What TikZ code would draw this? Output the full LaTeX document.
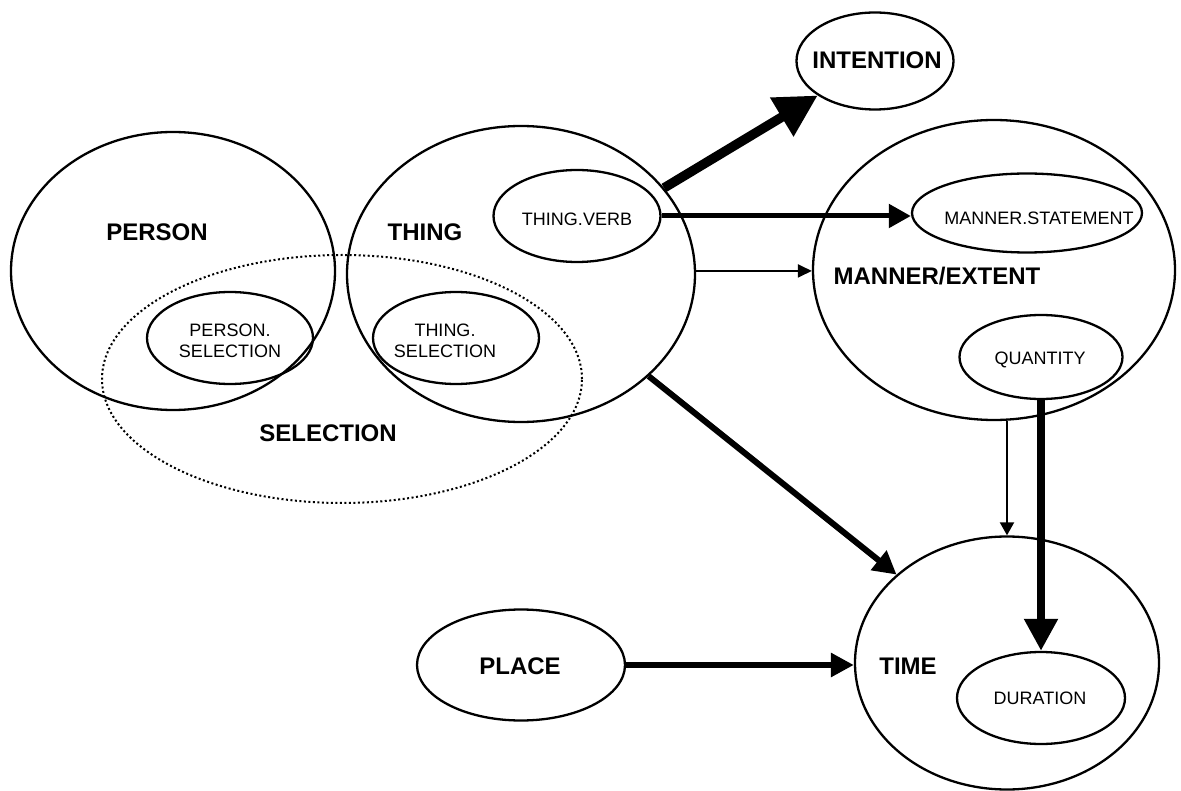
\documentclass[tikz,border=0pt]{standalone}
\usepackage{fontspec}
\setmainfont{Liberation Sans}
\usetikzlibrary{shapes.geometric,arrows.meta}
\begin{document}
\begin{tikzpicture}[x=1pt,y=-1pt,
  oval/.style={draw, ellipse, line width=2.3pt, inner sep=0pt, outer sep=1.15pt},
  dotoval/.style={draw, ellipse, line width=2pt, dash pattern=on 2pt off 2.5pt, inner sep=0pt},
  big/.style={font=\fontsize{24}{28}\selectfont\bfseries, inner sep=0pt, text depth=0pt},
  small/.style={font=\fontsize{18}{21}\selectfont, inner sep=0pt, text depth=0pt},
  smalltwo/.style={font=\fontsize{18}{21}\selectfont, inner sep=0pt, align=center},
  conn/.style={line width=#1},
]
\useasboundingbox (0,0) rectangle (1181,791);

% outer regions
\node[dotoval, minimum width=480pt, minimum height=248pt] (selection) at (342,379) {};
\node[oval, minimum width=324pt, minimum height=278pt] (person) at (173,271) {};
\node[oval, minimum width=348pt, minimum height=296pt] (thing) at (521,274) {};
\node[oval, minimum width=157pt, minimum height=97pt] (intention) at (875,61) {};
\node[oval, minimum width=362pt, minimum height=300pt] (manner) at (994,270) {};
\node[oval, minimum width=304pt, minimum height=253pt] (time) at (1007,663) {};
\node[oval, minimum width=208pt, minimum height=111pt] (place) at (521,665) {};

% inner regions
\node[oval, minimum width=166pt, minimum height=92pt] (personsel) at (230,338) {};
\node[oval, minimum width=166pt, minimum height=92pt] (thingsel) at (456,338) {};
\node[oval, minimum width=167pt, minimum height=92pt] (thingverb) at (577,216) {};
\node[oval, minimum width=230pt, minimum height=79pt] (mstate) at (1027,213) {};
\node[oval, minimum width=163pt, minimum height=84pt] (quantity) at (1041,357) {};
\node[oval, minimum width=168pt, minimum height=92pt] (duration) at (1041,698) {};

% labels
\node[big] (personlbl) at (157,232) {PERSON};
\node[big] (thinglbl) at (425,232) {THING};
\node[big] (sellbl) at (328,433) {SELECTION};
\node[big] (intlbl) at (877,60) {INTENTION};
\node[big] (mannerlbl) at (937,276) {MANNER/EXTENT};
\node[big] (timelbl) at (908,666) {TIME};
\node[big] (placelbl) at (520,666) {PLACE};
\node[smalltwo] (personsellbl) at (230,341) {PERSON.\\SELECTION};
\node[smalltwo] (thingsellbl) at (445,341) {THING.\\SELECTION};
\node[small] (thingverblbl) at (577,219) {THING.VERB};
\node[small] (mstatelbl) at (1039,218) {MANNER.STATEMENT};
\node[small] (quantitylbl) at (1040,358) {QUANTITY};
\node[small] (durationlbl) at (1040,698) {DURATION};

% connectors
\draw[conn=9.5pt, -{Triangle[length=42pt,width=43pt]}] (thing) -- (intention);
\draw[conn=5pt, -{Triangle[length=22pt,width=23pt]}] (thingverb.east) -- (thingverb.east -| mstate.west);
\draw[conn=2pt, -{Triangle[length=14pt,width=13pt]}] (thing.1) -- (thing.1 -| manner.west);
\draw[conn=6pt, -{Triangle[length=23pt,width=24pt]}] (thing) -- (time);
\draw[conn=6pt, -{Triangle[length=23pt,width=23pt]}] (place.east) -- (place.east -| time.west);
\draw[conn=2pt, -{Triangle[length=13pt,width=14pt]}] (time.north |- manner.south) -- (time.north);
\draw[conn=8pt, -{Triangle[length=32pt,width=32pt]}] (quantity.south) -- (duration.north);
\end{tikzpicture}
\end{document}
